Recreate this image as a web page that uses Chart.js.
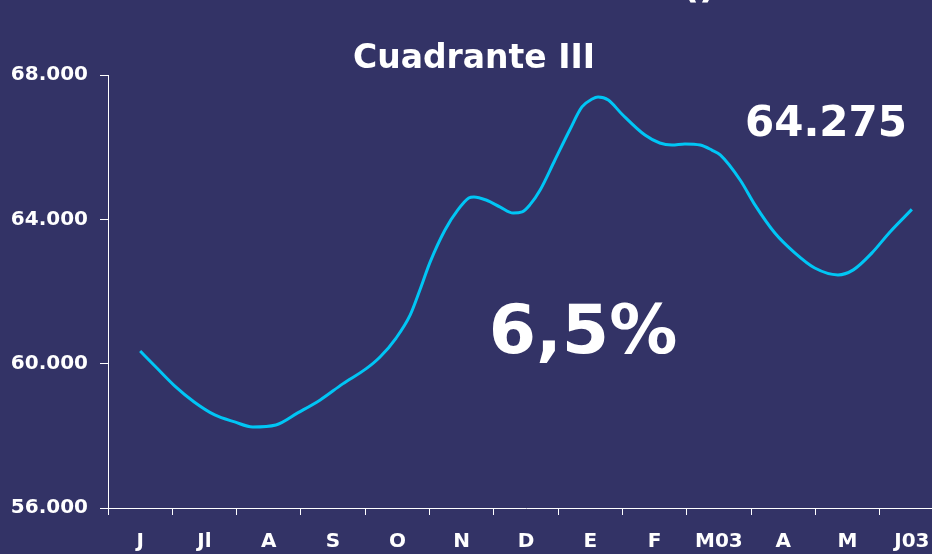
<!DOCTYPE html>
<html>
<head>
<meta charset="utf-8">
<script src="https://cdn.jsdelivr.net/npm/chart.js@4/dist/chart.umd.min.js"></script>
<style>
  html, body { margin: 0; padding: 0; background: #333366; overflow: hidden; }
  #wrap { width: 950px; height: 554px; }
</style>
</head>
<body>
<div id="wrap"><canvas id="myChart" width="950" height="554"></canvas></div>
<script>
// month labels on the x axis
var months = ['J', 'Jl', 'A', 'S', 'O', 'N', 'D', 'E', 'F', 'M03', 'A', 'M', 'J03'];
// position of each reading, in months from the first label
var weekPos = [0, 0.26, 0.54, 0.84, 1.16, 1.47, 1.75, 2.11, 2.45, 2.8, 3.15, 3.51, 3.73, 3.98,
  4.2, 4.35, 4.51, 4.74, 4.94, 5.11, 5.19, 5.38, 5.6, 5.8, 5.94, 6.06, 6.22, 6.45, 6.68,
  6.87, 7.03, 7.12, 7.28, 7.49, 7.85, 8.08, 8.27, 8.47, 8.71, 8.89, 9.02, 9.33, 9.56, 9.87,
  10.18, 10.49, 10.85, 11.09, 11.38, 11.66, 12];
// series values
var valores = [60350, 59880, 59380, 58940, 58580, 58385, 58245, 58300, 58635, 58995, 59440,
  59855, 60185, 60710, 61350, 62040, 62820, 63705, 64260, 64590, 64620, 64535, 64340, 64175,
  64205, 64400, 64815, 65645, 66475, 67115, 67335, 67390, 67305, 66920, 66335, 66115, 66060,
  66090, 66060, 65920, 65785, 65090, 64400, 63620, 63070, 62650, 62460, 62600, 63070, 63650,
  64275];
var yTicks = [56000, 60000, 64000, 68000];

var titulo = 'Cuadrante III';
var variacion = '6,5%';
var ultimo = '64.275';

var puntos = weekPos.map(function (p, i) { return { x: p, y: valores[i] }; });

var font = "'DejaVu Sans', Verdana, sans-serif";

// texts painted on top of the chart
var textos = {
  id: 'textos',
  afterDraw: function (chart) {
    var c = chart.ctx;
    c.save();
    c.fillStyle = '#ffffff';
    c.textAlign = 'center';
    c.textBaseline = 'alphabetic';
    c.font = 'bold 38px ' + font;
    c.fillText('()', 699, -3);
    c.font = 'bold 33px ' + font;
    c.fillText(titulo, 474, 68);
    c.font = 'bold 68px ' + font;
    c.fillText(variacion, 583, 353);
    c.font = 'bold 42px ' + font;
    c.fillText(ultimo, 826, 136);
    c.restore();
  }
};

var ctx = document.getElementById('myChart').getContext('2d');
var myChart = new Chart(ctx, {
  type: 'line',
  data: {
    labels: months,
    datasets: [{
      data: puntos,
      xAxisID: 'x',
      borderColor: '#00c6f5',
      borderWidth: 3,
      pointRadius: 0,
      fill: false,
      tension: 0.4,
      cubicInterpolationMode: 'monotone'
    }]
  },
  options: {
    responsive: false,
    animation: false,
    devicePixelRatio: 1,
    layout: { padding: { top: 75, right: 6, left: 0, bottom: 0 } },
    plugins: { legend: { display: false }, tooltip: { enabled: false } },
    scales: {
      x: {
        type: 'linear',
        display: false,
        min: -0.5,
        max: 12.5
      },
      meses: {
        type: 'category',
        position: 'bottom',
        labels: months,
        offset: true,
        grid: { offset: true, drawOnChartArea: false, color: '#ffffff', tickLength: 7, lineWidth: 1 },
        border: { color: '#ffffff', width: 1 },
        ticks: { color: '#ffffff', font: { family: font, size: 20, weight: 'bold' }, padding: 15, maxRotation: 0, autoSkip: false },
        afterFit: function (s) { s.height = 46; }
      },
      y: {
        min: 56000,
        max: 68000,
        afterBuildTicks: function (s) { s.ticks = yTicks.map(function (v) { return { value: v }; }); },
        grid: { drawOnChartArea: false, color: '#ffffff', tickLength: 8 },
        border: { color: '#ffffff', width: 1 },
        ticks: {
          color: '#ffffff',
          padding: 12,
          font: { family: font, size: 20, weight: 'bold' },
          callback: function (v) { return v.toLocaleString('de-DE', { minimumFractionDigits: 0 }).replace(',', '.'); }
        },
        afterFit: function (s) { s.width = 108; }
      }
    }
  },
  plugins: [textos]
});
</script>
</body>
</html>
